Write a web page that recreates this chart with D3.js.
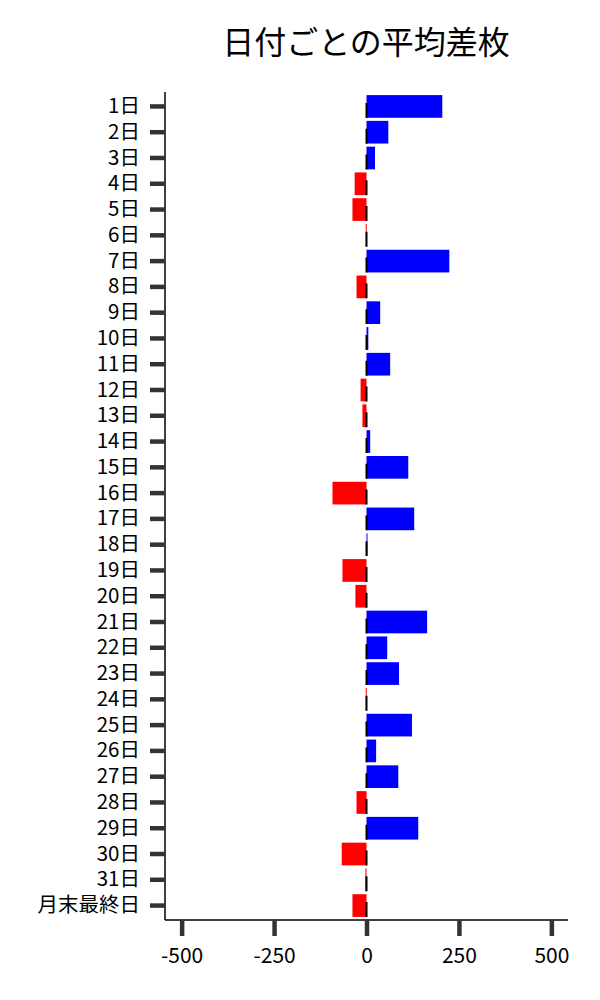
<!DOCTYPE html>
<html>
<head>
<meta charset="utf-8">
<script src="https://cdn.jsdelivr.net/npm/d3@7"></script>
<style>
  body { margin: 0; background: #fff; }
  text { font-family: "Noto Sans CJK JP", "Noto Sans", sans-serif; }
</style>
</head>
<body>
<div id="chart"></div>
<script>
// categories (day of month)
var days = ["1日","2日","3日","4日","5日","6日","7日","8日","9日","10日",
    "11日","12日","13日","14日","15日","16日","17日","18日","19日","20日",
    "21日","22日","23日","24日","25日","26日","27日","28日","29日","30日",
    "31日","月末最終日"];
// average difference per day
var avgDiff = [205, 59, 23, -32, -38, -2, 224, -27, 37, 5,
    64, -16, -11, 10, 113, -92, 129, 2, -65, -30,
    164, 56, 88, -2, 123, 26, 86, -27, 140, -67,
    -3, -38];
var xTicks = [-500, -250, 0, 250, 500];
var title = "日付ごとの平均差枚";

var width = 600, height = 1000;
var plotLeft = 165, plotRight = 568, plotTop = 92, plotBottom = 920;

var svg = d3.select("#chart").append("svg")
    .attr("width", width)
    .attr("height", height);

var x = d3.scaleLinear().domain([-545, 545]).range([plotLeft, plotRight]);
var y = d3.scaleBand().domain(days).range([plotTop, plotBottom]).padding(0.12);

// title
svg.append("text")
    .attr("x", 366)
    .attr("y", 54)
    .attr("text-anchor", "middle")
    .attr("font-size", 32)
    .attr("fill", "#000")
    .text(title);

// bars
var data = days.map((d, i) => ({ day: d, v: avgDiff[i] }));
svg.selectAll(".bar")
    .data(data)
    .enter()
    .append("rect")
    .attr("class", "bar")
    .attr("x", d => x(Math.min(0, d.v)))
    .attr("y", d => y(d.day))
    .attr("width", d => Math.max(1, Math.abs(x(d.v) - x(0))))
    .attr("height", y.bandwidth())
    .attr("fill", d => d.v >= 0 ? "#0000ff" : "#ff0000");

// dashed zero line
var step = y.step();
svg.append("line")
    .attr("x1", x(0)).attr("x2", x(0))
    .attr("y1", plotTop).attr("y2", plotBottom)
    .attr("stroke", "#000")
    .attr("stroke-width", 2)
    .attr("stroke-dasharray", (step * 0.58) + "," + (step * 0.42))
    .attr("stroke-dashoffset", -(y(days[0]) + y.bandwidth() / 2 - 3.5 - plotTop));

// y axis
var yAxis = svg.append("g")
    .attr("transform", "translate(" + plotLeft + ",0)")
    .call(d3.axisLeft(y).tickSize(15).tickPadding(10));
yAxis.select(".domain").attr("stroke", "#000").attr("stroke-width", 1.5)
    .attr("d", "M0," + plotTop + "V" + plotBottom);
yAxis.selectAll(".tick line").attr("stroke", "#333").attr("stroke-width", 4.5);
yAxis.selectAll(".tick text").attr("font-size", 20.5).attr("fill", "#000")
    .style("font-family", "'Noto Sans CJK JP', sans-serif");

// x axis
var xAxis = svg.append("g")
    .attr("transform", "translate(0," + plotBottom + ")")
    .call(d3.axisBottom(x).tickValues(xTicks).tickFormat(d => String(d))
        .tickSize(16).tickPadding(12));
xAxis.select(".domain").attr("stroke", "#000").attr("stroke-width", 1.5)
    .attr("d", "M" + plotLeft + ",0H" + plotRight);
xAxis.selectAll(".tick line").attr("stroke", "#333").attr("stroke-width", 4.5);
xAxis.selectAll(".tick text").attr("font-size", 21).attr("fill", "#000")
    .style("font-family", "'Noto Sans CJK JP', sans-serif");
</script>
</body>
</html>
